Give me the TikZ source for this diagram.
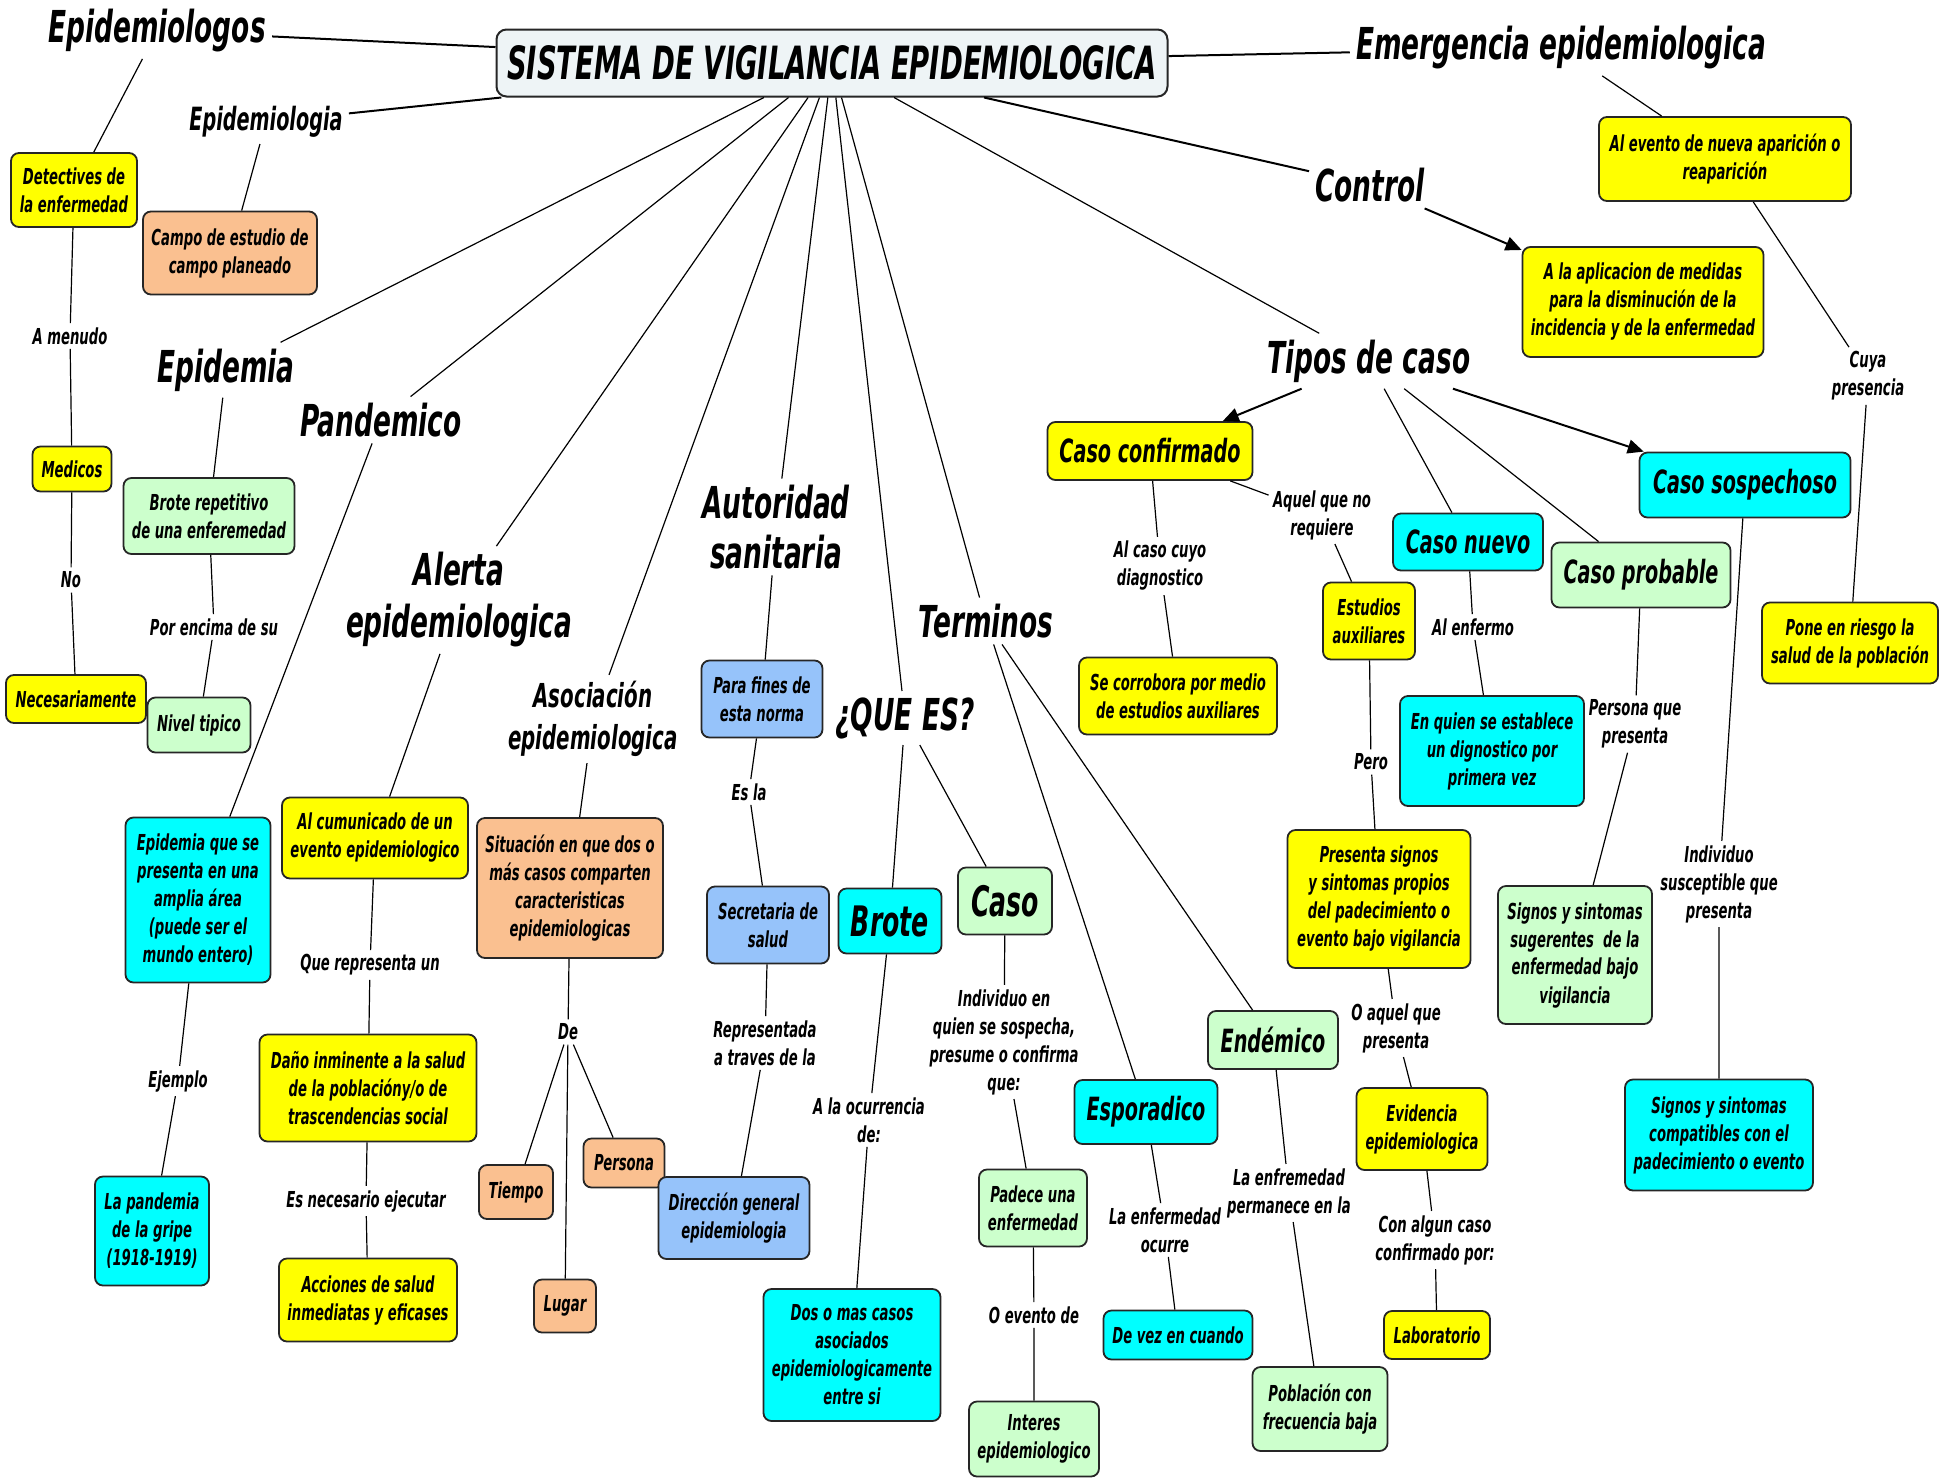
\documentclass[tikz,border=0pt]{standalone}
\usepackage{fontspec}
\setmainfont{DejaVu Sans}[FakeStretch=0.6]
\usetikzlibrary{arrows.meta}
\definecolor{yel}{HTML}{FFFF00}
\definecolor{cy}{HTML}{00FFFF}
\definecolor{grn}{HTML}{CCFFCC}
\definecolor{org}{RGB}{250,192,144}
\definecolor{blu}{RGB}{150,195,250}
\definecolor{ttl}{RGB}{238,244,246}
\newcommand\fn{\fontsize{11}{14}\selectfont\bfseries\itshape}
\newcommand\fm{\fontsize{16}{19}\selectfont\bfseries\itshape}
\newcommand\fa{\fontsize{16.5}{21}\selectfont\bfseries\itshape}
\newcommand\fh{\fontsize{21}{25}\selectfont\bfseries\itshape}
\newcommand\fb{\fontsize{22}{26}\selectfont\bfseries\itshape}
\newcommand\ft{\fontsize{22.9}{26}\selectfont\bfseries\itshape}
\begin{document}
\begin{tikzpicture}[x=0.5pt,y=-0.5pt,
  bx/.style={draw=black!85, line width=0.9pt, rounded corners=4pt, align=center, inner sep=2pt, font=\fn},
  yb/.style={bx, fill=yel}, cb/.style={bx, fill=cy}, gb/.style={bx, fill=grn},
  ob/.style={bx, fill=org}, bb/.style={bx, fill=blu},
  big/.style={align=center, inner sep=3pt, font=\fb},
  lk/.style={align=center, inner sep=2pt, font=\fn},
  ln/.style={line width=0.6pt},
  tk/.style={line width=1pt},
  arr/.style={-{Triangle[length=8pt,width=7pt]}}
]
\fill[white] (0,0) rectangle (1948,1478);
\useasboundingbox (0,0) rectangle (1948,1478);

% title
\node[draw=black!85, line width=1pt, rounded corners=5pt, fill=ttl, font=\ft,
      minimum width=335.5pt, minimum height=33.5pt] (title) at (832,63)
      {SISTEMA DE VIGILANCIA EPIDEMIOLOGICA};

% big labels
\node[big] (epos) at (157,31) {Epidemiologos};
\node[big, font=\fm] (epia) at (266,122) {Epidemiologia};
\node[big] (emerg) at (1561,48) {Emergencia epidemiologica};
\node[big] (control) at (1370,185) {Control};
\node[big] (tipos) at (1369,361) {Tipos de caso};
\node[big] (epidemia) at (226,370) {Epidemia};
\node[big] (pandemico) at (381,420) {Pandemico};
\node[big] (alerta) at (459,600) {Alerta\\epidemiologica};
\node[big, font=\fa] (asoc) at (593,719) {Asociación\\epidemiologica};
\node[big, font=\fontsize{22}{25}\selectfont\bfseries\itshape] (autor) at (776,527) {Autoridad\\sanitaria};
\node[big] (terminos) at (986,621) {Terminos};
\node[big] (quees) at (905,718) {¿QUE ES?};

% boxes
\node[yb, minimum width=63pt, minimum height=37pt] (detect) at (74,190) {Detectives de\\la enfermedad};
\node[ob, minimum width=87pt, minimum height=41.5pt] (campo) at (230,253) {Campo de estudio de\\campo planeado};
\node[yb, minimum width=39.5pt, minimum height=22.5pt] (medicos) at (72,469) {Medicos};
\node[gb, minimum width=85.5pt, minimum height=38pt] (broterep) at (209,516) {Brote repetitivo\\de una enferemedad};
\node[yb, minimum width=70pt, minimum height=24pt] (necesar) at (76,699) {Necesariamente};
\node[gb, minimum width=51.5pt, minimum height=27.5pt] (nivel) at (199,725) {Nivel tipico};
\node[cb, minimum width=72.5pt, minimum height=82.5pt] (epiqs) at (198,900) {Epidemia que se\\presenta en una\\amplia área\\(puede ser el\\mundo entero)};
\node[cb, minimum width=57pt, minimum height=54.5pt] (gripe) at (152,1231) {La pandemia\\de la gripe\\(1918-1919)};
\node[yb, minimum width=93pt, minimum height=40.5pt] (comunic) at (375,838) {Al cumunicado de un\\evento epidemiologico};
\node[yb, minimum width=108.5pt, minimum height=53.5pt] (dano) at (368,1088) {Daño inminente a la salud\\de la poblacióny/o de\\trascendencias social};
\node[yb, minimum width=89pt, minimum height=41.5pt] (acciones) at (368,1300) {Acciones de salud\\inmediatas y eficases};
\node[ob, minimum width=93pt, minimum height=70pt] (situacion) at (570,888) {Situación en que dos o\\más casos comparten\\caracteristicas\\epidemiologicas};
\node[ob, minimum width=37pt, minimum height=27pt] (tiempo) at (516,1192) {Tiempo};
\node[ob, minimum width=40.5pt, minimum height=24.5pt] (persona) at (624,1163) {Persona};
\node[ob, minimum width=31pt, minimum height=26.5pt] (lugar) at (565,1306) {Lugar};
\node[bb, minimum width=60.5pt, minimum height=38.5pt] (parafines) at (762,699) {Para fines de\\esta norma};
\node[bb, minimum width=61pt, minimum height=38.5pt] (secretaria) at (768,925) {Secretaria de\\salud};
\node[bb, minimum width=75.5pt, minimum height=41pt] (direccion) at (734,1218) {Dirección general\\epidemiologia};
\node[cb, font=\fh, minimum width=51.5pt, minimum height=32.5pt] (brote) at (890,921) {Brote};
\node[gb, font=\fh, minimum width=47pt, minimum height=33.5pt] (caso) at (1005,901) {Caso};
\node[cb, minimum width=88.5pt, minimum height=66pt] (dosomas) at (852,1355) {Dos o mas casos\\asociados\\epidemiologicamente\\entre si};
\node[gb, minimum width=54pt, minimum height=38.5pt] (padece) at (1033,1208) {Padece una\\enfermedad};
\node[gb, minimum width=65pt, minimum height=37.5pt] (interes) at (1034,1439) {Interes\\epidemiologico};
\node[cb, font=\fm, minimum width=71.5pt, minimum height=32pt] (espor) at (1146,1112) {Esporadico};
\node[cb, minimum width=74.5pt, minimum height=24.5pt] (devez) at (1178,1335) {De vez en cuando};
\node[gb, font=\fm, minimum width=65pt, minimum height=29pt] (endem) at (1273,1040) {Endémico};
\node[gb, minimum width=67.5pt, minimum height=42pt] (poblac) at (1320,1409) {Población con\\frecuencia baja};
\node[yb, font=\fm, minimum width=102.5pt, minimum height=29pt] (confirm) at (1150,451) {Caso confirmado};
\node[yb, minimum width=99pt, minimum height=38.5pt] (corrob) at (1178,696) {Se corrobora por medio\\de estudios auxiliares};
\node[yb, minimum width=46pt, minimum height=38.5pt] (estudios) at (1369,621) {Estudios\\auxiliares};
\node[cb, font=\fm, minimum width=75pt, minimum height=28.5pt] (nuevo) at (1468,542) {Caso nuevo};
\node[gb, font=\fm, minimum width=89.5pt, minimum height=32.5pt] (probable) at (1641,575) {Caso probable};
\node[cb, font=\fm, minimum width=105.5pt, minimum height=32.5pt] (sospech) at (1745,485) {Caso sospechoso};
\node[cb, minimum width=92pt, minimum height=55pt] (enquien) at (1492,751) {En quien se establece\\un dignostico por\\primera vez};
\node[yb, minimum width=91.5pt, minimum height=69pt] (presenta) at (1379,899) {Presenta signos\\y sintomas propios\\del padecimiento o\\evento bajo vigilancia};
\node[gb, minimum width=77pt, minimum height=69pt] (sugeren) at (1575,955) {Signos y sintomas\\sugerentes\ \ de la\\enfermedad bajo\\vigilancia};
\node[yb, minimum width=65.5pt, minimum height=41pt] (evidencia) at (1422,1129) {Evidencia\\epidemiologica};
\node[yb, minimum width=53pt, minimum height=24pt] (labor) at (1437,1335) {Laboratorio};
\node[cb, minimum width=94pt, minimum height=55.5pt] (compat) at (1719,1135) {Signos y sintomas\\compatibles con el\\padecimiento o evento};
\node[yb, minimum width=126pt, minimum height=42pt] (alevento) at (1725,159) {Al evento de nueva aparición o\\reaparición};
\node[yb, minimum width=120.5pt, minimum height=55pt] (aplic) at (1643,302) {A la aplicacion de medidas\\para la disminución de la\\incidencia y de la enfermedad};
\node[yb, minimum width=88pt, minimum height=40.5pt] (pone) at (1850,643) {Pone en riesgo la\\salud de la población};

% linking phrases
\node[lk] (l1) at (70,336) {A menudo};
\node[lk] (l2) at (71,580) {No};
\node[lk] (l3) at (214,627) {Por encima de su};
\node[lk] (l4) at (178,1081) {Ejemplo};
\node[lk] (l5) at (370,965) {Que representa un};
\node[lk] (l6) at (366,1201) {Es necesario ejecutar};
\node[lk] (l7) at (568,1032) {De};
\node[lk] (l8) at (749,792) {Es la};
\node[lk] (l9) at (765,1043) {Representada\\a traves de la};
\node[lk] (l10) at (869,1120) {A la ocurrencia\\de:};
\node[lk] (l11) at (1004,1042) {Individuo en\\quien se sospecha,\\presume o confirma\\que:};
\node[lk] (l12) at (1034,1315) {O evento de};
\node[lk] (l13) at (1165,1230) {La enfermedad\\ocurre};
\node[lk] (l14) at (1289,1193) {La enfremedad\\permanece en la};
\node[lk] (l15) at (1160,566) {Al caso cuyo\\diagnostico};
\node[lk] (l16) at (1322,515) {Aquel que no\\requiere};
\node[lk] (l17) at (1473,627) {Al enfermo};
\node[lk] (l18) at (1371,762) {Pero};
\node[lk] (l19) at (1635,724) {Persona que\\presenta};
\node[lk] (l20) at (1719,884) {Individuo\\susceptible que\\presenta};
\node[lk] (l21) at (1396,1028) {O aquel que\\presenta};
\node[lk] (l22) at (1435,1240) {Con algun caso\\confirmado por:};
\node[lk] (l23) at (1868,376) {Cuya\\presencia};

% title spokes
\draw[tk] (title) -- (epos);
\draw[tk] (title) -- (epia);
\draw[tk] (title) -- (emerg);
\draw[tk] (title) -- (control);
\draw[ln] (title) -- (tipos);
\draw[ln] (title) -- (epidemia);
\draw[ln] (title) -- (pandemico);
\draw[ln] (title) -- (alerta);
\draw[ln] (title) -- (asoc);
\draw[ln] (title) -- (autor);
\draw[ln] (title) -- (quees);
\draw[ln] (title) -- (terminos);

% left part
\draw[ln] (epos) -- (detect);
\draw[ln] (detect) -- (l1) -- (medicos);
\draw[ln] (medicos) -- (l2) -- (necesar);
\draw[ln] (epia) -- (campo);
\draw[ln] (epidemia) -- (broterep);
\draw[ln] (broterep) -- (l3) -- (nivel);
\draw[ln] (pandemico) -- (epiqs);
\draw[ln] (epiqs) -- (l4) -- (gripe);
\draw[ln] (alerta) -- (comunic);
\draw[ln] (comunic) -- (l5) -- (dano);
\draw[ln] (dano) -- (l6) -- (acciones);
\draw[ln] (asoc) -- (situacion);
\draw[ln] (situacion) -- (l7);
\draw[ln] (l7) -- (tiempo);
\draw[ln] (l7) -- (persona);
\draw[ln] (l7) -- (lugar);
\draw[ln] (autor) -- (parafines);
\draw[ln] (parafines) -- (l8) -- (secretaria);
\draw[ln] (secretaria) -- (l9) -- (direccion);
\draw[ln] (quees) -- (brote);
\draw[ln] (quees) -- (caso);
\draw[ln] (brote) -- (l10) -- (dosomas);
\draw[ln] (caso) -- (l11) -- (padece);
\draw[ln] (padece) -- (l12) -- (interes);
\draw[ln] (terminos) -- (espor);
\draw[ln] (terminos) -- (endem);
\draw[ln] (espor) -- (l13) -- (devez);
\draw[ln] (endem) -- (l14) -- (poblac);

% right part
\draw[tk,arr] (control) -- (aplic);
\draw[ln] (emerg) -- (alevento);
\draw[ln] (alevento) -- (l23) -- (pone);
\draw[tk,arr] (tipos) -- (confirm);
\draw[tk,arr] (tipos) -- (sospech);
\draw[ln] (tipos) -- (nuevo);
\draw[ln] (tipos) -- (probable);
\draw[ln] (confirm) -- (l15) -- (corrob);
\draw[ln] (confirm) -- (l16) -- (estudios);
\draw[ln] (estudios) -- (l18) -- (presenta);
\draw[ln] (presenta) -- (l21) -- (evidencia);
\draw[ln] (evidencia) -- (l22) -- (labor);
\draw[ln] (nuevo) -- (l17) -- (enquien);
\draw[ln] (probable) -- (l19) -- (sugeren);
\draw[ln] (sospech) -- (l20) -- (compat);
\end{tikzpicture}
\end{document}
